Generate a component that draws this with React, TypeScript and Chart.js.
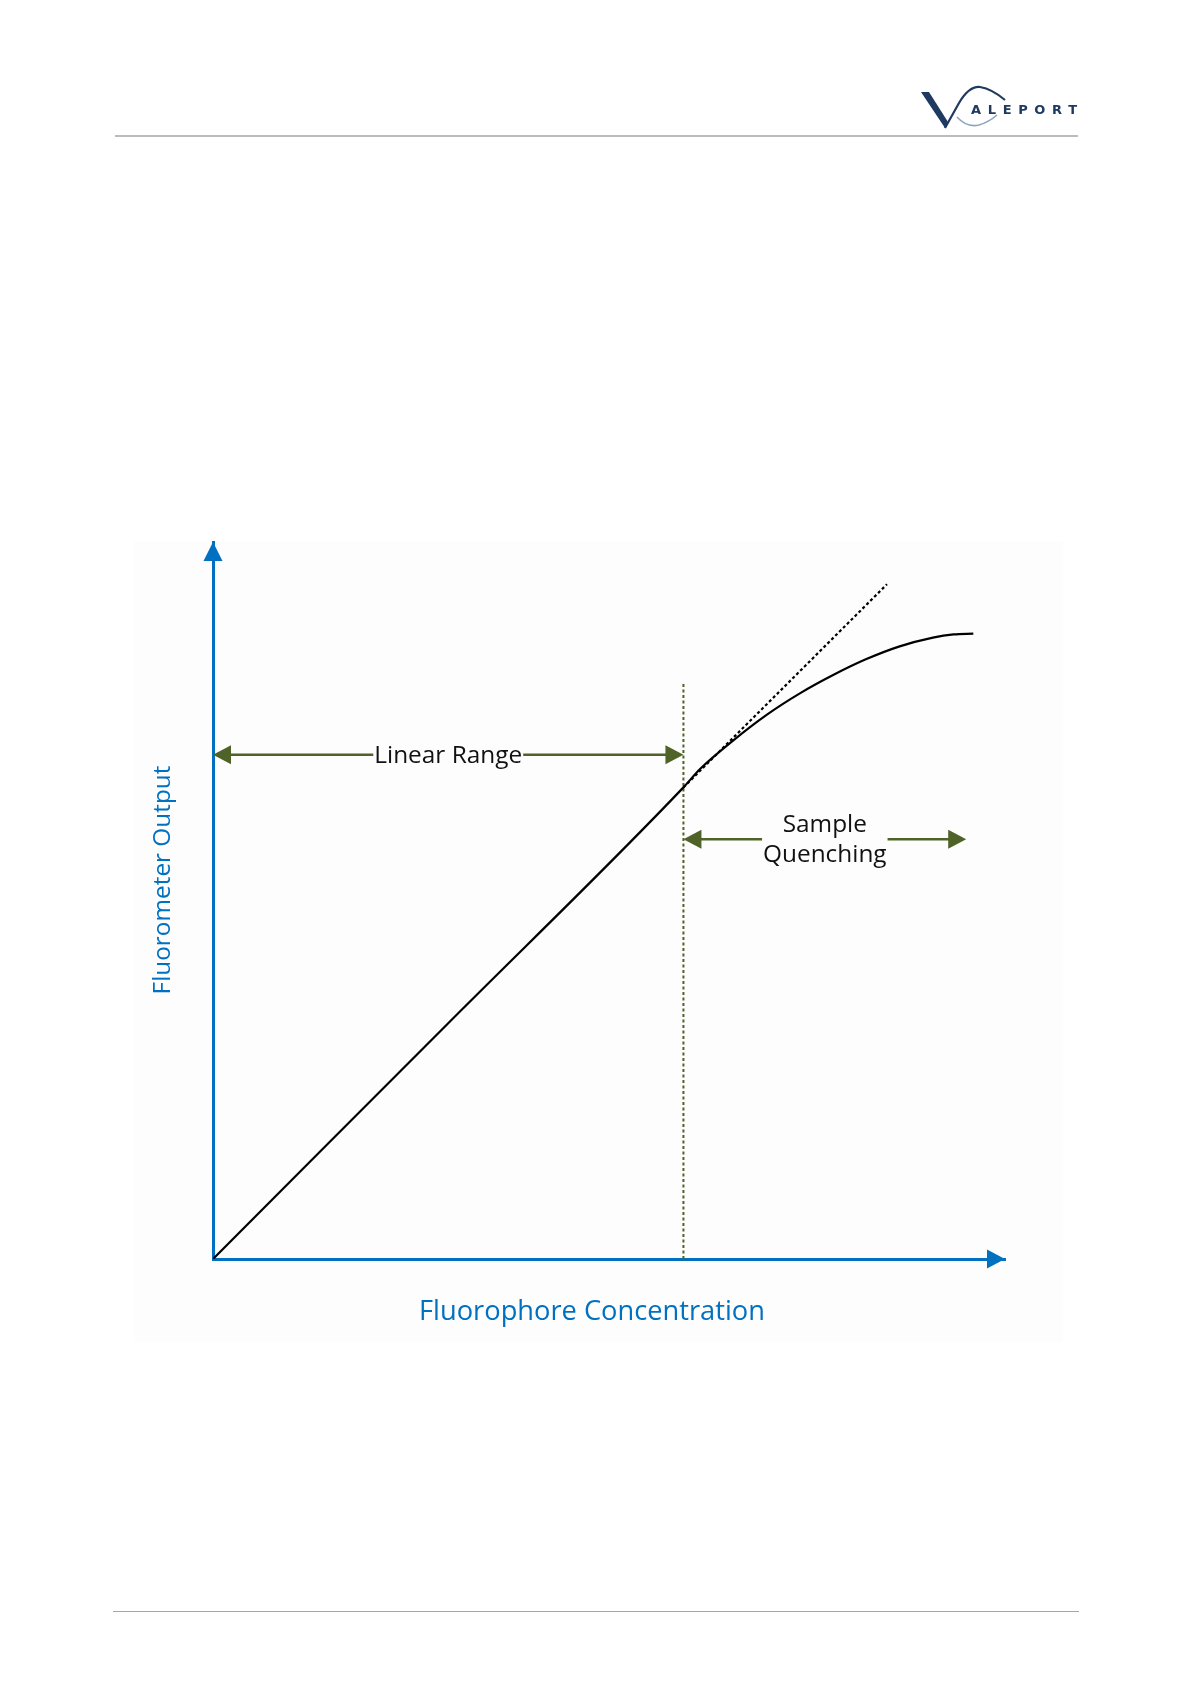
import React, { useEffect, useRef } from "react";
import { Chart, registerables } from "chart.js";

Chart.register(...registerables);

// ---- data ----
const CURVE_X = [0, 29.7, 59.4, 61.5, 65.7, 69.9, 74.1, 78.3, 82.5, 86.7, 90.9, 93.5, 96.0];
const CURVE_Y = [0, 29.6, 59.2, 61.5, 65.1, 68.3, 71.0, 73.3, 75.3, 76.9, 78.0, 78.4, 78.5];
const TANGENT_X = [59.4, 85.1];
const TANGENT_Y = [59.2, 84.7];
const LIMIT_X = [59.4, 59.4];
const LIMIT_Y = [0, 72.4];
const LINEAR_RANGE_X = [0, 59.4];
const LINEAR_RANGE_Y = 63.3;
const QUENCH_RANGE_X = [59.4, 95.1];
const QUENCH_RANGE_Y = 52.7;
const X_TITLE = "Fluorophore Concentration";
const Y_TITLE = "Fluorometer Output";
const LINEAR_LABEL = ["Linear Range"];
const QUENCH_LABEL = ["Sample", "Quenching"];

const BLUE = "#0070C0";
const GREEN = "#4F6228";
const FONT = "'Open Sans', 'Noto Sans', sans-serif";

function fitSize(ctx: CanvasRenderingContext2D, text: string, target: number) {
  ctx.font = `100px ${FONT}`;
  const w = ctx.measureText(text).width;
  return (100 * target) / w;
}

function head(ctx: CanvasRenderingContext2D, tx: number, ty: number, dx: number, dy: number, len: number, half: number, color: string) {
  const bx = tx - dx * len;
  const by = ty - dy * len;
  ctx.beginPath();
  ctx.moveTo(tx, ty);
  ctx.lineTo(bx - dy * half, by + dx * half);
  ctx.lineTo(bx + dy * half, by - dx * half);
  ctx.closePath();
  ctx.fillStyle = color;
  ctx.fill();
}

const decor = {
  id: "decor",
  beforeDraw(chart: any) {
    const ctx = chart.ctx as CanvasRenderingContext2D;
    ctx.save();
    ctx.fillStyle = "#FDFDFD";
    ctx.fillRect(134, 541, 929, 801);
    ctx.restore();
  },
  afterDraw(chart: any) {
    const ctx = chart.ctx as CanvasRenderingContext2D;
    const xs = chart.scales.x;
    const ys = chart.scales.y;
    const area = chart.chartArea;
    ctx.save();
    // axis arrowheads
    head(ctx, area.left, area.top, 0, -1, 19, 9.5, BLUE);
    head(ctx, area.right, area.bottom, 1, 0, 18, 9.5, BLUE);

    // range arrows with labels
    const drawRange = (rx: number[], ry: number, lines: string[], widths: number[], baselines: number[]) => {
      const x0 = xs.getPixelForValue(rx[0]);
      const x1 = xs.getPixelForValue(rx[1]);
      const y = ys.getPixelForValue(ry);
      const mid = (x0 + x1) / 2;
      let maxW = 0;
      const sizes = lines.map((t, i) => fitSize(ctx, t, widths[i]));
      const size = sizes.reduce((a, b) => a + b, 0) / sizes.length;
      ctx.font = `${size}px ${FONT}`;
      lines.forEach((t) => (maxW = Math.max(maxW, ctx.measureText(t).width)));
      const gap = maxW / 2 + 1;
      ctx.strokeStyle = GREEN;
      ctx.lineWidth = 2.5;
      ctx.beginPath();
      ctx.moveTo(x0 + 10, y);
      ctx.lineTo(mid - gap, y);
      ctx.moveTo(mid + gap, y);
      ctx.lineTo(x1 - 10, y);
      ctx.stroke();
      head(ctx, x0, y, -1, 0, 18, 9.5, GREEN);
      head(ctx, x1, y, 1, 0, 18, 9.5, GREEN);
      ctx.fillStyle = "#111";
      ctx.textAlign = "center";
      ctx.textBaseline = "alphabetic";
      lines.forEach((t, i) => ctx.fillText(t, mid, y + baselines[i]));
    };
    drawRange(LINEAR_RANGE_X, LINEAR_RANGE_Y, LINEAR_LABEL, [148], [8.5]);
    drawRange(QUENCH_RANGE_X, QUENCH_RANGE_Y, QUENCH_LABEL, [84, 124], [-7, 23.3]);

    // axis titles
    ctx.fillStyle = BLUE;
    ctx.textAlign = "center";
    ctx.textBaseline = "alphabetic";
    const xs1 = fitSize(ctx, X_TITLE, 346);
    ctx.font = `${xs1}px ${FONT}`;
    ctx.fillText(X_TITLE, 592, 1320);
    const ys1 = fitSize(ctx, Y_TITLE, 229);
    ctx.font = `${ys1}px ${FONT}`;
    ctx.translate(170, 880);
    ctx.rotate(-Math.PI / 2);
    ctx.fillText(Y_TITLE, 0, 0);
    ctx.restore();
  },
};

function Logo() {
  return (
    <svg
      width={1191}
      height={160}
      style={{ position: "absolute", left: 0, top: 0, pointerEvents: "none" }}
    >
      <polygon points="921,92 929,92 948,122 945,128" fill="#1F3A60" />
      <path d="M945,128 L959,103 Q969,86 980,87 Q992,89 1005,100" fill="none" stroke="#1F3A60" strokeWidth={2.2} />
      <path d="M957,117 Q967,128 979,125 Q989,122 997,115" fill="none" stroke="#8FA4BF" strokeWidth={1.6} />
      <text
        x={971}
        y={114}
        textLength={106}
        lengthAdjust="spacing"
        fontFamily="'DejaVu Sans', sans-serif"
        fontWeight="bold"
        fontSize={13}
        fill="#1F3A60"
      >
        ALEPORT
      </text>
      <line x1={115} y1={136} x2={1078} y2={136} stroke="#A6A6A6" strokeWidth={1.5} />
    </svg>
  );
}

export default function App() {
  const ref = useRef<HTMLCanvasElement>(null);
  useEffect(() => {
    const canvas = ref.current!;
    const pts = (a: number[], b: number[]) => a.map((x, i) => ({ x, y: b[i] }));
    const chart = new Chart(canvas, {
      type: "scatter",
      data: {
        datasets: [
          {
            data: pts(CURVE_X, CURVE_Y),
            showLine: true,
            borderColor: "#000",
            borderWidth: 2.2,
            pointRadius: 0,
            cubicInterpolationMode: "monotone",
          },
          {
            data: pts(TANGENT_X, TANGENT_Y),
            showLine: true,
            borderColor: "#000",
            borderWidth: 2.2,
            borderDash: [3, 2.5],
            pointRadius: 0,
          },
          {
            data: pts(LIMIT_X, LIMIT_Y),
            showLine: true,
            borderColor: GREEN,
            borderWidth: 2,
            borderDash: [3, 2.5],
            pointRadius: 0,
          },
        ],
      },
      options: {
        responsive: false,
        animation: false,
        devicePixelRatio: 1,
        events: [],
        layout: { padding: { left: 213, right: 186, top: 542, bottom: 426 } },
        plugins: { legend: { display: false }, tooltip: { enabled: false } },
        scales: {
          x: {
            type: "linear",
            min: 0,
            max: 100,
            grid: { display: false, drawTicks: false },
            ticks: { display: false },
            border: { display: true, color: BLUE, width: 3 },
          },
          y: {
            type: "linear",
            min: 0,
            max: 90,
            grid: { display: false, drawTicks: false },
            ticks: { display: false },
            border: { display: true, color: BLUE, width: 3 },
          },
        },
      } as any,
      plugins: [decor],
    });
    return () => chart.destroy();
  }, []);

  return (
    <div style={{ position: "absolute", left: 0, top: 0, width: 1191, height: 1685, background: "#fff" }}>
      <canvas ref={ref} width={1191} height={1685} style={{ width: 1191, height: 1685, display: "block" }} />
      <Logo />
      <div style={{ position: "absolute", left: 113, top: 1611, width: 966, height: 0, borderTop: "1.5px solid #A6A6A6" }} />
    </div>
  );
}
